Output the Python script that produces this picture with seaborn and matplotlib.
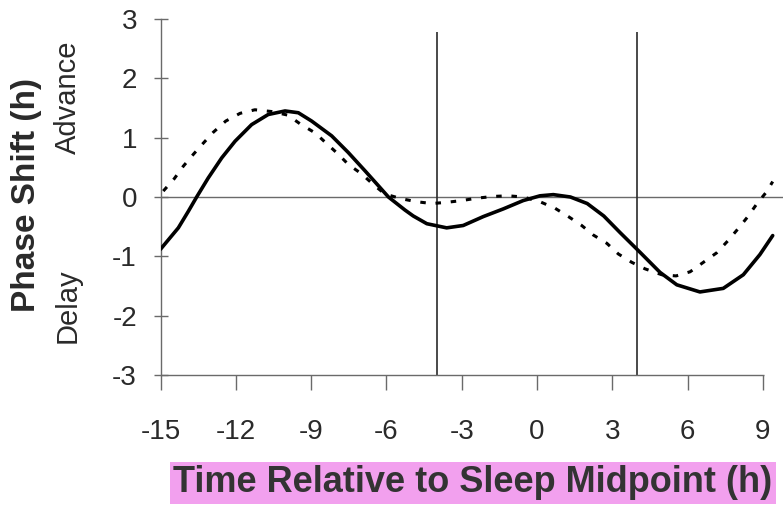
import matplotlib
matplotlib.use('Agg')
import matplotlib.pyplot as plt
import seaborn as sns
import pandas as pd

# Curves (hours relative to sleep midpoint -> phase shift, h)
solid_x = [-15.0, -14.29, -13.89, -13.56, -13.10, -12.56, -12.03, -11.37, -10.71, -10.04,
           -9.51, -8.98, -8.18, -7.52, -6.85, -6.32, -5.92, -5.26, -4.93, -4.39,
           -3.6, -2.94, -2.14, -1.34, -0.55, 0.12, 0.65, 1.33, 2.0, 2.66,
           3.31, 4.1, 4.9, 5.57, 6.49, 7.42, 8.22, 8.88, 9.39]
solid_y = [-0.88, -0.52, -0.24, 0.0, 0.32, 0.66, 0.94, 1.22, 1.39, 1.45,
           1.42, 1.28, 1.03, 0.75, 0.44, 0.19, 0.0, -0.22, -0.32, -0.45,
           -0.52, -0.48, -0.33, -0.20, -0.06, 0.02, 0.04, 0.0, -0.11, -0.32,
           -0.60, -0.93, -1.27, -1.48, -1.60, -1.54, -1.31, -0.97, -0.65]

dashed_x = [-14.89, -14.45, -14.09, -13.69, -13.29, -12.9, -12.4, -11.83, -11.24, -10.57,
            -9.93, -9.43, -8.84, -8.38, -7.94, -7.52, -6.99, -6.52, -6.06, -5.4,
            -4.79, -4.19, -3.6, -3.0, -2.4, -1.74, -1.14, -0.55, 0.12, 0.72,
            1.25, 1.78, 2.24, 2.78, 3.24, 3.77, 4.3, 4.97, 5.54, 6.1,
            6.63, 7.16, 7.6, 8.02, 8.4, 8.75, 9.15, 9.39]
dashed_y = [0.10, 0.31, 0.52, 0.72, 0.91, 1.09, 1.28, 1.41, 1.47, 1.44,
            1.38, 1.23, 1.08, 0.90, 0.73, 0.55, 0.39, 0.21, 0.05, -0.03,
            -0.08, -0.11, -0.09, -0.06, -0.02, 0.01, 0.02, 0.0, -0.08, -0.19,
            -0.33, -0.48, -0.64, -0.78, -0.96, -1.10, -1.21, -1.31, -1.33, -1.26,
            -1.10, -0.94, -0.74, -0.53, -0.33, -0.12, 0.09, 0.26]

x_ticks = [-15, -12, -9, -6, -3, 0, 3, 6, 9]
y_ticks = [-3, -2, -1, 0, 1, 2, 3]
light_times = [-4, 4]

sns.set_theme(style='white')
plt.rcParams['font.family'] = ['Liberation Sans', 'DejaVu Sans']
plt.rcParams['axes.unicode_minus'] = False

fig = plt.figure(figsize=(7.83, 5.05), dpi=100)
ax = fig.add_axes([0.205, 0.2574, 0.7966, 0.705])

ink = '#2a2a2a'
grey = '#6a6a6a'

ax.axhline(0, color=grey, lw=1.0, zorder=1)
ax.vlines(light_times, -3, 2.78, color=ink, lw=1.2, zorder=1)

df_solid = pd.DataFrame({'time': solid_x, 'shift': solid_y})
df_dash = pd.DataFrame({'time': dashed_x, 'shift': dashed_y})
sns.lineplot(data=df_solid, x='time', y='shift', ax=ax, color='black',
             linewidth=2.6, sort=False, zorder=3)
sns.lineplot(data=df_dash, x='time', y='shift', ax=ax, color='black',
             linewidth=2.2, linestyle=(0, (1.8, 3.2)), sort=False, zorder=3)

ax.set_xlim(-15, 9.85)
ax.set_ylim(-3, 3)
ax.set_xticks(x_ticks)
ax.set_yticks(y_ticks)
ax.set_xlabel('')
ax.set_ylabel('')

for s in ['top', 'right', 'bottom']:
    ax.spines[s].set_visible(False)
ax.spines['left'].set_color(grey)
ax.spines['left'].set_linewidth(1.0)
ax.hlines(-3, -15, 9.05, color=grey, lw=1.0, clip_on=False, zorder=2)

ax.tick_params(axis='x', direction='out', length=11, width=1, color=grey,
               labelsize=20, labelcolor=ink, pad=21)
ax.tick_params(axis='y', direction='inout', length=10, width=1, color=grey,
               labelsize=20, labelcolor=ink, pad=12)
ax.tick_params(axis='both', bottom=True, left=True)

# axis titles placed like the original figure
fig.text(0.034, 0.614, 'Phase Shift (h)', rotation=90, ha='center', va='center',
         fontsize=24, fontweight='bold', color=ink)
fig.text(0.087, 0.808, 'Advance', rotation=90, ha='center', va='center',
         fontsize=21, color=ink)
fig.text(0.087, 0.394, 'Delay', rotation=90, ha='center', va='center',
         fontsize=21, color=ink)
fig.text(0.604, 0.044, 'Time Relative to Sleep Midpoint (h)', ha='center', va='center',
         fontsize=26, fontweight='bold', color='#333333',
         bbox=dict(boxstyle='square,pad=0.1', facecolor='#f2a0ee', edgecolor='none'))

fig.savefig('out.png', dpi=100)
